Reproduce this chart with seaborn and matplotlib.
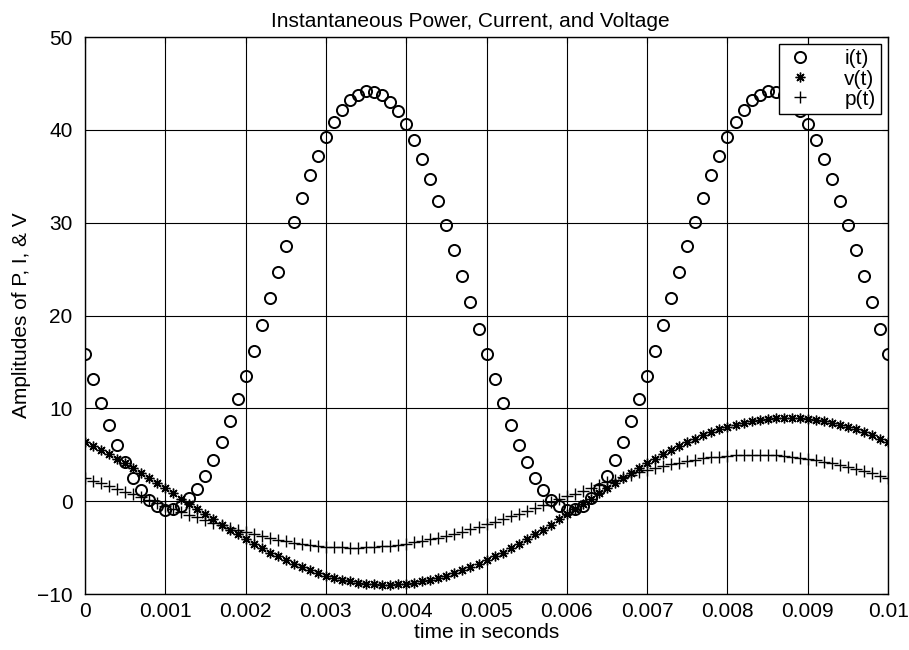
import matplotlib
matplotlib.use('Agg')
import matplotlib.pyplot as plt
import seaborn as sns

# sample instants (s)
time_s = [0.0000, 0.0001, 0.0002, 0.0003, 0.0004, 0.0005, 0.0006, 0.0007, 0.0008, 0.0009,
          0.0010, 0.0011, 0.0012, 0.0013, 0.0014, 0.0015, 0.0016, 0.0017, 0.0018, 0.0019,
          0.0020, 0.0021, 0.0022, 0.0023, 0.0024, 0.0025, 0.0026, 0.0027, 0.0028, 0.0029,
          0.0030, 0.0031, 0.0032, 0.0033, 0.0034, 0.0035, 0.0036, 0.0037, 0.0038, 0.0039,
          0.0040, 0.0041, 0.0042, 0.0043, 0.0044, 0.0045, 0.0046, 0.0047, 0.0048, 0.0049,
          0.0050, 0.0051, 0.0052, 0.0053, 0.0054, 0.0055, 0.0056, 0.0057, 0.0058, 0.0059,
          0.0060, 0.0061, 0.0062, 0.0063, 0.0064, 0.0065, 0.0066, 0.0067, 0.0068, 0.0069,
          0.0070, 0.0071, 0.0072, 0.0073, 0.0074, 0.0075, 0.0076, 0.0077, 0.0078, 0.0079,
          0.0080, 0.0081, 0.0082, 0.0083, 0.0084, 0.0085, 0.0086, 0.0087, 0.0088, 0.0089,
          0.0090, 0.0091, 0.0092, 0.0093, 0.0094, 0.0095, 0.0096, 0.0097, 0.0098, 0.0099,
          0.0100]

# circles
i_t = [15.9, 13.2, 10.6, 8.2, 6.1, 4.2, 2.5, 1.2, 0.1, -0.5,
       -0.9, -0.8, -0.5, 0.3, 1.3, 2.7, 4.4, 6.4, 8.6, 11.0,
       13.5, 16.2, 19.0, 21.9, 24.7, 27.5, 30.1, 32.7, 35.1, 37.2,
       39.2, 40.8, 42.1, 43.2, 43.8, 44.2, 44.1, 43.8, 43.0, 42.0,
       40.6, 38.9, 36.9, 34.7, 32.3, 29.8, 27.1, 24.3, 21.5, 18.6,
       15.9, 13.2, 10.6, 8.2, 6.1, 4.2, 2.5, 1.2, 0.1, -0.5,
       -0.9, -0.8, -0.5, 0.3, 1.3, 2.7, 4.4, 6.4, 8.6, 11.0,
       13.5, 16.2, 19.0, 21.9, 24.7, 27.5, 30.1, 32.7, 35.1, 37.2,
       39.2, 40.8, 42.1, 43.2, 43.8, 44.2, 44.1, 43.8, 43.0, 42.0,
       40.6, 38.9, 36.9, 34.7, 32.3, 29.8, 27.1, 24.3, 21.5, 18.6,
       15.9]

# asterisks
v_t = [6.36, 5.95, 5.52, 5.06, 4.58, 4.09, 3.57, 3.05, 2.51, 1.96,
       1.41, 0.85, 0.28, -0.28, -0.85, -1.41, -1.96, -2.51, -3.05, -3.57,
       -4.09, -4.58, -5.06, -5.52, -5.95, -6.36, -6.75, -7.11, -7.44, -7.75,
       -8.02, -8.26, -8.47, -8.64, -8.78, -8.89, -8.96, -9.00, -9.00, -8.96,
       -8.89, -8.78, -8.64, -8.47, -8.26, -8.02, -7.75, -7.44, -7.11, -6.75,
       -6.36, -5.95, -5.52, -5.06, -4.58, -4.09, -3.57, -3.05, -2.51, -1.96,
       -1.41, -0.85, -0.28, 0.28, 0.85, 1.41, 1.96, 2.51, 3.05, 3.57,
       4.09, 4.58, 5.06, 5.52, 5.95, 6.36, 6.75, 7.11, 7.44, 7.75,
       8.02, 8.26, 8.47, 8.64, 8.78, 8.89, 8.96, 9.00, 9.00, 8.96,
       8.89, 8.78, 8.64, 8.47, 8.26, 8.02, 7.75, 7.44, 7.11, 6.75,
       6.36]

# pluses
p_t = [2.50, 2.22, 1.94, 1.64, 1.34, 1.04, 0.73, 0.42, 0.10, -0.21,
       -0.52, -0.83, -1.14, -1.45, -1.74, -2.03, -2.32, -2.59, -2.85, -3.11,
       -3.35, -3.57, -3.79, -3.98, -4.16, -4.33, -4.48, -4.61, -4.72, -4.82,
       -4.89, -4.95, -4.98, -5.00, -5.00, -4.97, -4.93, -4.87, -4.79, -4.69,
       -4.57, -4.43, -4.28, -4.11, -3.92, -3.72, -3.50, -3.27, -3.02, -2.77,
       -2.50, -2.22, -1.94, -1.64, -1.34, -1.04, -0.73, -0.42, -0.10, 0.21,
       0.52, 0.83, 1.14, 1.45, 1.74, 2.03, 2.32, 2.59, 2.85, 3.11,
       3.35, 3.57, 3.79, 3.98, 4.16, 4.33, 4.48, 4.61, 4.72, 4.82,
       4.89, 4.95, 4.98, 5.00, 5.00, 4.97, 4.93, 4.87, 4.79, 4.69,
       4.57, 4.43, 4.28, 4.11, 3.92, 3.72, 3.50, 3.27, 3.02, 2.77,
       2.50]

x_ticks = [0, 0.001, 0.002, 0.003, 0.004, 0.005, 0.006, 0.007, 0.008, 0.009, 0.01]
x_tick_labels = ['0', '0.001', '0.002', '0.003', '0.004', '0.005',
                 '0.006', '0.007', '0.008', '0.009', '0.01']
y_ticks = [-10, 0, 10, 20, 30, 40, 50]

sns.set_style('white')
plt.rcParams['font.family'] = ['Liberation Sans', 'DejaVu Sans']
plt.rcParams['font.size'] = 15
plt.rcParams['text.color'] = 'black'
plt.rcParams['axes.labelcolor'] = 'black'

fig, ax = plt.subplots(figsize=(9.09, 6.5), dpi=100)
fig.subplots_adjust(left=0.0935, right=0.977, bottom=0.086, top=0.943)

sns.lineplot(x=time_s, y=i_t, ax=ax, color='k', linestyle='', marker='o',
             markerfacecolor='none', markeredgecolor='k', markersize=8,
             markeredgewidth=1.4, label='i(t)')
sns.lineplot(x=time_s, y=v_t, ax=ax, color='k', linestyle='', marker=(8, 2, 0),
             markeredgecolor='k', markersize=7, markeredgewidth=1.0, label='v(t)')
sns.lineplot(x=time_s, y=p_t, ax=ax, color='k', linestyle='', marker='+',
             markeredgecolor='k', markersize=8, markeredgewidth=1.0, label='p(t)')

ax.set_xlim(0, 0.01)
ax.set_ylim(-10, 50)
ax.set_xticks(x_ticks)
ax.set_xticklabels(x_tick_labels)
ax.set_yticks(y_ticks)
ax.set_axisbelow(True)
ax.grid(True, color='black', linewidth=0.8)
for s in ax.spines.values():
    s.set_color('black')
    s.set_linewidth(1.0)
ax.tick_params(direction='in', top=True, right=True, length=4, width=0.8,
               colors='black', labelsize=15)
ax.tick_params(axis='x', pad=6)
ax.tick_params(axis='y', pad=9)

ax.set_title('Instantaneous Power, Current, and Voltage', fontsize=15, pad=7,
             x=0.48, color='black')
ax.set_xlabel('time in seconds', fontsize=15, labelpad=1)
ax.set_ylabel('Amplitudes of P, I, & V', fontsize=15, labelpad=4)

leg = ax.legend(loc='upper right', bbox_to_anchor=(0.991, 0.987), borderaxespad=0,
                fancybox=False, framealpha=1, edgecolor='black', fontsize=15,
                handlelength=1.5, handletextpad=1.4, labelspacing=0.05,
                borderpad=0.25)
leg.get_frame().set_linewidth(1.0)

plt.savefig('out.png', dpi=100)
plt.close()
